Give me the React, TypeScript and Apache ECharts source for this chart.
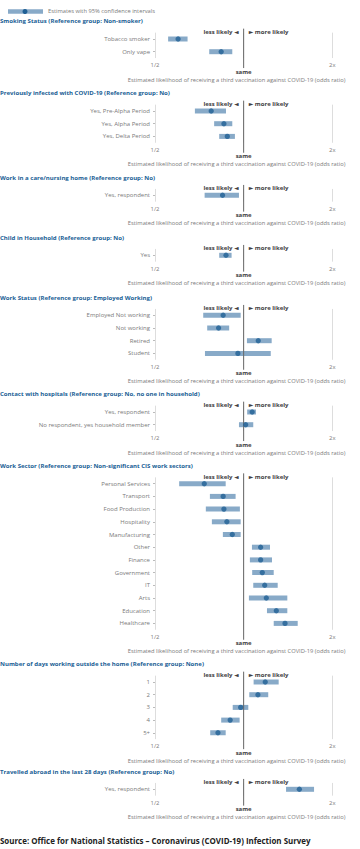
import React, { useEffect, useRef } from 'react';
import * as echarts from 'echarts';

// ---------- DATA ----------
const axisTitle = 'Estimated likelihood of receiving a third vaccination against COVID-19 (odds ratio)';
const legendText = 'Estimates with 95% confidence intervals';
const sourceText = 'Source: Office for National Statistics \u2013 Coronavirus (COVID-19) Infection Survey';
const referenceOdds = 1;
const lessLabel = 'less likely \u25C4';
const moreLabel = '\u25BA more likely';
const sameLabel = 'same';

const smokingTitle = 'Smoking Status (Reference group: Non-smoker)';
const smokingCats = ['Tobacco smoker', 'Only vape'];
const smokingEst = [0.599, 0.839];
const smokingLow = [0.554, 0.764];
const smokingHigh = [0.645, 0.915];

const infectedTitle = 'Previously infected with COVID-19 (Reference group: No)';
const infectedCats = ['Yes, Pre-Alpha Period', 'Yes, Alpha Period', 'Yes, Delta Period'];
const infectedEst = [0.776, 0.857, 0.88];
const infectedLow = [0.683, 0.794, 0.826];
const infectedHigh = [0.871, 0.915, 0.934];

const careTitle = 'Work in a care/nursing home (Reference group: No)';
const careCats = ['Yes, respondent'];
const careEst = [0.848];
const careLow = [0.737];
const careHigh = [0.964];

const childTitle = 'Child in Household (Reference group: No)';
const childCats = ['Yes'];
const childEst = [0.871];
const childLow = [0.826];
const childHigh = [0.91];

const workStatusTitle = 'Work Status (Reference group: Employed Working)';
const workStatusCats = ['Employed Not working', 'Not working', 'Retired', 'Student'];
const workStatusEst = [0.852, 0.822, 1.121, 0.956];
const workStatusLow = [0.729, 0.752, 1.026, 0.739];
const workStatusHigh = [0.977, 0.893, 1.245, 1.236];

const hospitalTitle = 'Contact with hospitals (Reference group: No, no one in household)';
const hospitalCats = ['Yes, respondent', 'No respondent, yes household member'];
const hospitalEst = [1.069, 1.016];
const hospitalLow = [1.028, 0.964];
const hospitalHigh = [1.101, 1.078];

const sectorTitle = 'Work Sector (Reference group: Non-significant CIS work sectors)';
const sectorCats = ['Personal Services', 'Transport', 'Food Production', 'Hospitality', 'Manufacturing', 'Other', 'Finance', 'Government', 'IT', 'Arts', 'Education', 'Healthcare'];
const sectorEst = [0.735, 0.852, 0.857, 0.877, 0.915, 1.142, 1.142, 1.157, 1.179, 1.194, 1.291, 1.382];
const sectorLow = [0.604, 0.768, 0.744, 0.78, 0.85, 1.067, 1.05, 1.069, 1.078, 1.042, 1.2, 1.265];
const sectorHigh = [0.869, 0.939, 0.971, 0.977, 0.977, 1.229, 1.248, 1.265, 1.305, 1.407, 1.407, 1.526];

const daysTitle = 'Number of days working outside the home (Reference group: None)';
const daysCats = ['1', '2', '3', '4', '5+'];
const daysEst = [1.184, 1.118, 0.977, 0.9, 0.818];
const daysLow = [1.081, 1.045, 0.918, 0.839, 0.77];
const daysHigh = [1.315, 1.212, 1.037, 0.969, 0.869];

const travelTitle = 'Travelled abroad in the last 28 days (Reference group: No)';
const travelCats = ['Yes, respondent'];
const travelEst = [1.546];
const travelLow = [1.393];
const travelHigh = [1.734];

const panels = [
  { title: smokingTitle, cats: smokingCats, est: smokingEst, low: smokingLow, high: smokingHigh },
  { title: infectedTitle, cats: infectedCats, est: infectedEst, low: infectedLow, high: infectedHigh },
  { title: careTitle, cats: careCats, est: careEst, low: careLow, high: careHigh },
  { title: childTitle, cats: childCats, est: childEst, low: childLow, high: childHigh },
  { title: workStatusTitle, cats: workStatusCats, est: workStatusEst, low: workStatusLow, high: workStatusHigh },
  { title: hospitalTitle, cats: hospitalCats, est: hospitalEst, low: hospitalLow, high: hospitalHigh },
  { title: sectorTitle, cats: sectorCats, est: sectorEst, low: sectorLow, high: sectorHigh },
  { title: daysTitle, cats: daysCats, est: daysEst, low: daysLow, high: daysHigh },
  { title: travelTitle, cats: travelCats, est: travelEst, low: travelLow, high: travelHigh },
];

// ---------- LAYOUT ----------
const titleY = [22, 94, 178.3, 238.3, 298.3, 395, 466.7, 665, 772.3];
const ROW_H = 12.7;
const FIRST_ROW = 17;
const GRID_LEFT = 155;
const GRID_W = 177.3;
const FONT = "'Open Sans', 'DejaVu Sans', sans-serif";
const BLUE = '#206095';
const BAR = '#88aac8';
const GREY = '#7a7a7a';
const DARK = '#414042';

export default function App() {
  const ref = useRef<HTMLDivElement>(null);
  useEffect(() => {
    if (!ref.current) return;
    const chart = echarts.init(ref.current, null, { renderer: 'svg' });
    const grid: any[] = [];
    const xAxis: any[] = [];
    const yAxis: any[] = [];
    const series: any[] = [];
    const graphic: any[] = [];

    panels.forEach((p, i) => {
      const top = titleY[i] + FIRST_ROW - ROW_H / 2;
      grid.push({ left: GRID_LEFT, width: GRID_W, top, height: p.cats.length * ROW_H });
      xAxis.push({
        type: 'log', logBase: 2, min: 0.5, max: 2, gridIndex: i,
        axisLine: { show: false }, axisTick: { show: false },
        splitLine: { show: true, lineStyle: { color: '#dddddd', width: 1 } },
        axisLabel: {
          fontSize: 5.9, color: GREY, fontFamily: FONT, margin: 4,
          formatter: (v: number) => (Math.abs(v - 0.5) < 1e-6 ? '1/2' : Math.abs(v - 2) < 1e-6 ? '2x' : ''),
        },
        name: axisTitle, nameLocation: 'middle', nameGap: 18.5,
        nameTextStyle: { fontSize: 5.75, color: GREY, fontFamily: FONT, padding: [0, 14, 0, 0] },
      });
      yAxis.push({
        type: 'category', data: p.cats, inverse: true, gridIndex: i,
        axisLine: { show: false },
        axisTick: { show: true, alignWithLabel: true, length: 2, lineStyle: { color: '#bbbbbb' } },
        axisLabel: { fontSize: 6.0, color: GREY, fontFamily: FONT, margin: 5 },
        splitLine: { show: false },
      });
      series.push({
        type: 'custom', xAxisIndex: i, yAxisIndex: i,
        data: p.cats.map((_, j) => [p.low[j], p.high[j], j]),
        encode: { x: [0, 1], y: 2 },
        renderItem: (params: any, api: any) => {
          const a = api.coord([api.value(0), api.value(2)]);
          const b = api.coord([api.value(1), api.value(2)]);
          return { type: 'rect', shape: { x: a[0], y: a[1] - 2.5, width: b[0] - a[0], height: 5 }, style: { fill: BAR } };
        },
      });
      series.push({
        type: 'custom', xAxisIndex: i, yAxisIndex: i, clip: false, z: 5,
        data: [[referenceOdds, 0]],
        renderItem: (params: any, api: any) => {
          const pt = api.coord([api.value(0), 0]);
          const cs = params.coordSys;
          const x = pt[0];
          return {
            type: 'group',
            children: [
              { type: 'line', shape: { x1: x, y1: cs.y - 4, x2: x, y2: cs.y + cs.height + 10 }, style: { stroke: '#666666', lineWidth: 1 } },
              { type: 'text', style: { text: lessLabel, x: x - 5, y: cs.y - 0.5, align: 'right', verticalAlign: 'middle', fontSize: 6, fontWeight: 'bold', fill: DARK, fontFamily: FONT } },
              { type: 'text', style: { text: moreLabel, x: x + 5, y: cs.y - 0.5, align: 'left', verticalAlign: 'middle', fontSize: 6, fontWeight: 'bold', fill: DARK, fontFamily: FONT } },
              { type: 'text', style: { text: sameLabel, x, y: cs.y + cs.height + 13.5, align: 'center', verticalAlign: 'middle', fontSize: 6, fontWeight: 'bold', fill: DARK, fontFamily: FONT } },
            ],
          };
        },
      });
      series.push({
        type: 'scatter', xAxisIndex: i, yAxisIndex: i, z: 10,
        data: p.cats.map((c, j) => [p.est[j], j]),
        symbolSize: 5.3, itemStyle: { color: BLUE },
      });
      graphic.push({
        type: 'text', left: 0, top: titleY[i] - 3.8,
        style: { text: p.title, fontSize: 6.05, fontWeight: 'bold', fill: BLUE, fontFamily: FONT },
      });
    });

    graphic.push({ type: 'rect', shape: { x: 8, y: 9.3, width: 35, height: 4.5 }, style: { fill: BAR } });
    graphic.push({ type: 'circle', shape: { cx: 25, cy: 11.5, r: 2.5 }, style: { fill: BLUE } });
    graphic.push({ type: 'text', left: 48, top: 7.5, style: { text: legendText, fontSize: 5.75, fill: GREY, fontFamily: FONT } });
    graphic.push({ type: 'text', left: 0, top: 836.5, style: { text: sourceText, fontSize: 7.95, fontWeight: 'bold', fill: '#222222', fontFamily: FONT } });

    chart.setOption({ animation: false, grid, xAxis, yAxis, series, graphic });
    return () => chart.dispose();
  }, []);
  return <div ref={ref} style={{ position: 'absolute', left: 0, top: 0, width: 360, height: 849 }} />;
}
